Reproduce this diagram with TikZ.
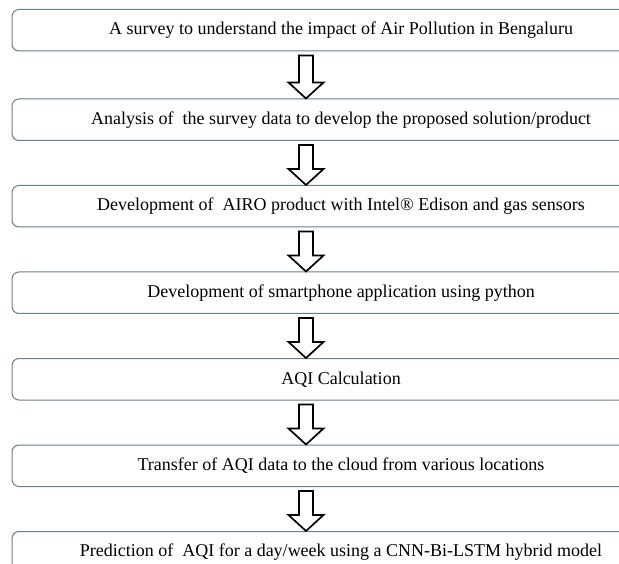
\documentclass[tikz,border=0pt]{standalone}
\usepackage{fontspec}
\setmainfont{Liberation Serif}
\usetikzlibrary{positioning,calc}
\definecolor{boxgray}{RGB}{108,126,136}

\begin{document}
\begin{tikzpicture}[x=1pt,y=1pt,font=\fontsize{18}{21}\selectfont,node distance=44pt,
  stage/.style={draw=boxgray,line width=1pt,rounded corners=7pt,minimum width=658pt,
    minimum height=41.5pt,inner sep=0pt,anchor=north},
  hollow/.style={draw=black,line width=1.7pt,fill=white,line join=miter,
    to path={let \p1=(\tikztostart),\p2=(\tikztotarget) in
      (\x1-7pt,\y1) -- (\x1+7pt,\y1) -- (\x1+7pt,\y2+16pt) -- (\x1+17.5pt,\y2+16pt)
      -- (\x1,\y2) -- (\x1-17.5pt,\y2+16pt) -- (\x1-7pt,\y2+16pt) -- cycle}}]
\clip (0,0) rectangle (619,-564);
\coordinate (ax) at (306,0);
\node[stage] (survey) at (341,-9) {A survey to understand the impact of Air Pollution in Bengaluru};
\node[stage,below=47pt of survey] (analysis) {Analysis of~ the survey data to develop the proposed solution/product};
\node[stage,below=of analysis] (airo) {Development of~ AIRO product with Intel® Edison and gas sensors};
\node[stage,below=of airo] (app) {Development of smartphone application using python};
\node[stage,below=of app] (aqi) {AQI Calculation};
\node[stage,below=of aqi] (cloud) {Transfer of AQI data to the cloud from various locations};
\node[stage,below=of cloud] (predict) {Prediction of~ AQI for a day/week using a CNN-Bi-LSTM hybrid model};
% hollow block arrows between the stages
\foreach \a/\b in {survey/analysis,analysis/airo,airo/app,app/aqi,aqi/cloud,cloud/predict}
  \draw[hollow] ($(\a.south -| ax)+(0,-4)$) to (\b.north -| ax);
\end{tikzpicture}
\end{document}
